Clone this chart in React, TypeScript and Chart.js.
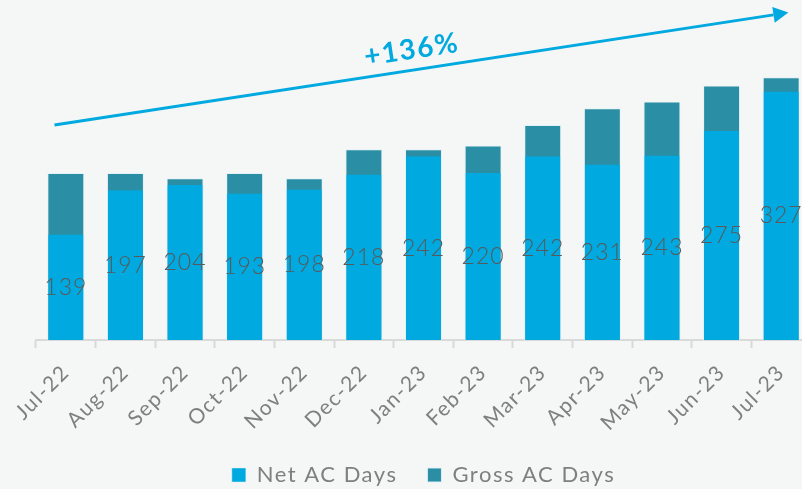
import React, { useEffect, useRef } from "react";
import { Chart, registerables } from "chart.js";

Chart.register(...registerables);

const months = ["Jul-22", "Aug-22", "Sep-22", "Oct-22", "Nov-22", "Dec-22", "Jan-23", "Feb-23", "Mar-23", "Apr-23", "May-23", "Jun-23", "Jul-23"];
const netDays = [139, 197, 204, 193, 198, 218, 242, 220, 242, 231, 243, 275, 327];
const grossDays = [220, 220, 213, 220, 213, 251, 251, 256, 283, 305, 314, 335, 346];
const growthLabel = "+136%";

// annotation anchors in (category index, value) space
const arrowFrom = [-0.19, 283];
const arrowTo = [12.12, 431];
const growthAt = [5.8, 382];

const NET_COLOR = "#00A9DF";
const GROSS_COLOR = "#2A8FA5";
const BG = "#F5F6F6";
const FONT = "Lato, 'DejaVu Sans', sans-serif";

const spacing = {
  id: "spacing",
  beforeUpdate(chart: any) {
    chart.ctx.letterSpacing = "1.5px";
  },
  beforeDraw(chart: any) {
    chart.ctx.letterSpacing = "1.5px";
  },
};

const annotations = {
  id: "annotations",
  afterDraw(chart: any) {
    const ctx = chart.ctx;
    const xs = chart.scales.x;
    const ys = chart.scales.y;
    const meta = chart.getDatasetMeta(0);
    ctx.save();
    ctx.letterSpacing = "1px";
    ctx.fillStyle = "#595959";
    ctx.font = "300 23px " + FONT;
    ctx.textAlign = "center";
    ctx.textBaseline = "middle";
    meta.data.forEach((el: any, i: number) => {
      ctx.fillText(String(netDays[i]), el.x, (el.y + el.base) / 2);
    });
    const x0 = xs.getPixelForValue(arrowFrom[0]);
    const y0 = ys.getPixelForValue(arrowFrom[1]);
    const x1 = xs.getPixelForValue(arrowTo[0]);
    const y1 = ys.getPixelForValue(arrowTo[1]);
    const ang = Math.atan2(y1 - y0, x1 - x0);
    const headLen = 15;
    const headHalf = 8;
    const bx = x1 - headLen * Math.cos(ang);
    const by = y1 - headLen * Math.sin(ang);
    ctx.strokeStyle = NET_COLOR;
    ctx.fillStyle = NET_COLOR;
    ctx.lineWidth = 3;
    ctx.beginPath();
    ctx.moveTo(x0, y0);
    ctx.lineTo(bx, by);
    ctx.stroke();
    ctx.beginPath();
    ctx.moveTo(x1, y1);
    ctx.lineTo(bx + headHalf * Math.sin(ang), by - headHalf * Math.cos(ang));
    ctx.lineTo(bx - headHalf * Math.sin(ang), by + headHalf * Math.cos(ang));
    ctx.closePath();
    ctx.fill();
    const tx = xs.getPixelForValue(growthAt[0]);
    const ty = ys.getPixelForValue(growthAt[1]);
    ctx.translate(tx, ty);
    ctx.rotate(ang);
    ctx.letterSpacing = "1.5px";
    ctx.font = "bold 28px " + FONT;
    ctx.fillText(growthLabel, 0, 0);
    ctx.restore();
  },
};

const bgPlugin = {
  id: "bg",
  beforeDraw(chart: any) {
    const ctx = chart.ctx;
    ctx.save();
    ctx.fillStyle = BG;
    ctx.fillRect(0, 0, chart.width, chart.height);
    ctx.restore();
  },
};

export default function App() {
  const ref = useRef<HTMLCanvasElement>(null);
  useEffect(() => {
    if (!ref.current) return;
    const chart = new Chart(ref.current, {
      type: "bar",
      data: {
        labels: months,
        datasets: [
          {
            label: "Net AC Days",
            data: netDays,
            backgroundColor: NET_COLOR,
            borderColor: "rgba(225,242,247,0.9)",
            borderWidth: { left: 1, right: 1, top: 0, bottom: 0 },
            borderSkipped: false,
            barPercentage: 0.62,
            categoryPercentage: 1,
          },
          {
            label: "Gross AC Days",
            data: grossDays,
            backgroundColor: GROSS_COLOR,
            borderColor: "rgba(225,242,247,0.9)",
            borderWidth: 1,
            borderSkipped: "bottom",
            barPercentage: 0.62,
            categoryPercentage: 1,
          },
        ],
      },
      options: {
        responsive: false,
        animation: false,
        devicePixelRatio: 1,
        layout: { padding: { top: 5, right: 4, left: 36, bottom: 0 } },
        plugins: {
          legend: {
            position: "bottom",
            labels: {
              boxWidth: 14,
              boxHeight: 14,
              padding: 30,
              color: "#7F7F7F",
              font: { family: FONT, size: 22 },
            },
          },
          tooltip: { enabled: false },
        },
        scales: {
          x: {
            stacked: true,
            afterFit(scale: any) {
              scale.height = 94;
            },
            grid: {
              display: true,
              drawOnChartArea: false,
              drawTicks: true,
              tickLength: 8,
              tickWidth: 2,
              tickColor: "#D9D9D9",
              offset: true,
            },
            border: { display: true, color: "#D9D9D9", width: 2 },
            ticks: {
              color: "#7F7F7F",
              font: { family: FONT, size: 21 },
              minRotation: 45,
              maxRotation: 45,
              padding: 12,
            },
          },
          y: {
            stacked: false,
            display: false,
            min: 0,
            max: 441,
          },
        },
      },
      plugins: [spacing, bgPlugin, annotations],
    });
    return () => chart.destroy();
  }, []);
  return (
    <div style={{ position: "fixed", left: 0, top: 0, width: 802, height: 489, overflow: "hidden", background: BG }}>
      <canvas ref={ref} width={815} height={496} style={{ display: "block", width: 815, height: 496 }} />
    </div>
  );
}
